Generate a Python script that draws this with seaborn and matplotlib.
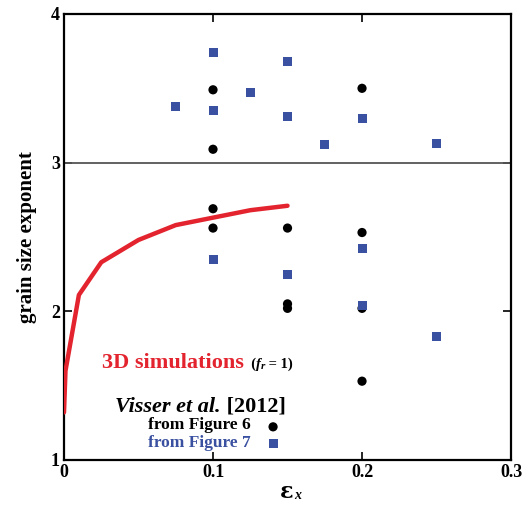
import matplotlib
matplotlib.use("Agg")
import matplotlib.pyplot as plt
import matplotlib.transforms as mtransforms
import seaborn as sns
import pandas as pd

# Simulation curve (3D, f_r = 1)
sim_strain = [0.0, 0.001, 0.01, 0.025, 0.05, 0.075, 0.1, 0.125, 0.15]
sim_exponent = [1.32, 1.60, 2.11, 2.33, 2.48, 2.58, 2.63, 2.68, 2.71]

# Visser et al. [2012], Figure 6
fig6_strain = [0.1, 0.1, 0.1, 0.1, 0.15, 0.15, 0.15, 0.2, 0.2, 0.2, 0.2]
fig6_exponent = [3.49, 3.09, 2.69, 2.56, 2.56, 2.05, 2.02, 3.50, 2.53, 2.02, 1.53]

# Visser et al. [2012], Figure 7
fig7_strain = [0.075, 0.1, 0.1, 0.125, 0.15, 0.15, 0.175, 0.2, 0.25,
               0.1, 0.15, 0.2, 0.2, 0.25]
fig7_exponent = [3.38, 3.74, 3.35, 3.47, 3.68, 3.31, 3.12, 3.30, 3.13,
                 2.35, 2.25, 2.42, 2.04, 1.83]

x_ticks = [0, 0.1, 0.2, 0.3]
x_tick_labels = ["0", "0.1", "0.2", "0.3"]
y_ticks = [1, 2, 3, 4]
y_tick_labels = ["1", "2", "3", "4"]

RED = "#e3242f"
BLUE = "#3a50a0"
SERIF = ["Liberation Serif", "DejaVu Serif"]

sns.set_theme(style="ticks")
plt.rcParams["font.family"] = SERIF
plt.rcParams["font.weight"] = "bold"
plt.rcParams["text.color"] = "black"
plt.rcParams["axes.labelcolor"] = "black"

fig = plt.figure(figsize=(5.22, 5.12), dpi=100)
ax = fig.add_axes([0.1226, 0.1016, 0.8564, 0.8711])

ax.axhline(3, color="#555555", lw=1.3, zorder=1)

sim = pd.DataFrame({"strain": sim_strain, "exponent": sim_exponent})
f6 = pd.DataFrame({"strain": fig6_strain, "exponent": fig6_exponent})
f7 = pd.DataFrame({"strain": fig7_strain, "exponent": fig7_exponent})

sns.lineplot(data=sim, x="strain", y="exponent", color=RED, lw=3.2,
             sort=False, ax=ax, zorder=3)
sns.scatterplot(data=f6, x="strain", y="exponent", color="black", marker="o",
                s=44, edgecolor="none", ax=ax, zorder=4)
sns.scatterplot(data=f7, x="strain", y="exponent", color=BLUE, marker="s",
                s=42, edgecolor="none", ax=ax, zorder=4)

ax.set_xlim(0, 0.3)
ax.set_ylim(1, 4)
ax.set_xticks(x_ticks)
ax.set_xticklabels(x_tick_labels)
ax.set_yticks(y_ticks)
ax.set_yticklabels(y_tick_labels)
ax.tick_params(direction="in", length=6, width=1.2, top=True, right=True,
               labelsize=13, colors="black", pad=3)
for lbl in ax.get_xticklabels() + ax.get_yticklabels():
    lbl.set_fontweight("bold")
for s in ax.spines.values():
    s.set_linewidth(1.6)
    s.set_color("black")

ax.set_xlabel("")
ax.set_ylabel("grain size exponent", fontsize=15, fontweight="bold",
              labelpad=10, color="black")

renderer = fig.canvas.get_renderer()


def run_text(x, y, runs):
    """Draw a sequence of text runs left to right starting at data (x, y)."""
    offset = 0.0
    for txt, kw in runs:
        dy = kw.pop("dy", 0.0)
        tr = mtransforms.offset_copy(ax.transData, fig=fig, x=offset, y=dy,
                                     units="dots")
        t = ax.text(x, y, txt, transform=tr, ha="left", va="baseline",
                    fontweight="bold", **kw)
        offset += t.get_window_extent(renderer).width


# x-axis label: epsilon with italic subscript x
fig.text(0.562, 0.028, "ε", fontsize=16, fontweight="bold", ha="right",
         va="baseline", family=["DejaVu Serif"], color="black")
fig.text(0.564, 0.025, "x", fontsize=10, style="italic", ha="left",
         va="baseline", color="black")

# annotations
run_text(0.0253, 1.619, [
    ("3D simulations", dict(color=RED, fontsize=16)),
    ("  (", dict(color="black", fontsize=10.5)),
    ("f", dict(color="black", fontsize=10.5, style="italic")),
    ("r", dict(color="black", fontsize=8, style="italic", dy=-1)),
    (" = 1)", dict(color="black", fontsize=10.5)),
])
run_text(0.0342, 1.323, [
    ("Visser et al.", dict(color="black", fontsize=16, style="italic")),
    (" [2012]", dict(color="black", fontsize=16)),
])
run_text(0.0564, 1.209, [("from Figure 6", dict(color="black", fontsize=12.5))])
run_text(0.0564, 1.088, [("from Figure 7", dict(color=BLUE, fontsize=12.5))])
ax.scatter([0.1403], [1.223], s=44, color="black", marker="o",
           edgecolor="none", zorder=4)
ax.scatter([0.1403], [1.108], s=42, color=BLUE, marker="s",
           edgecolor="none", zorder=4)

fig.savefig("out.png", dpi=100)
